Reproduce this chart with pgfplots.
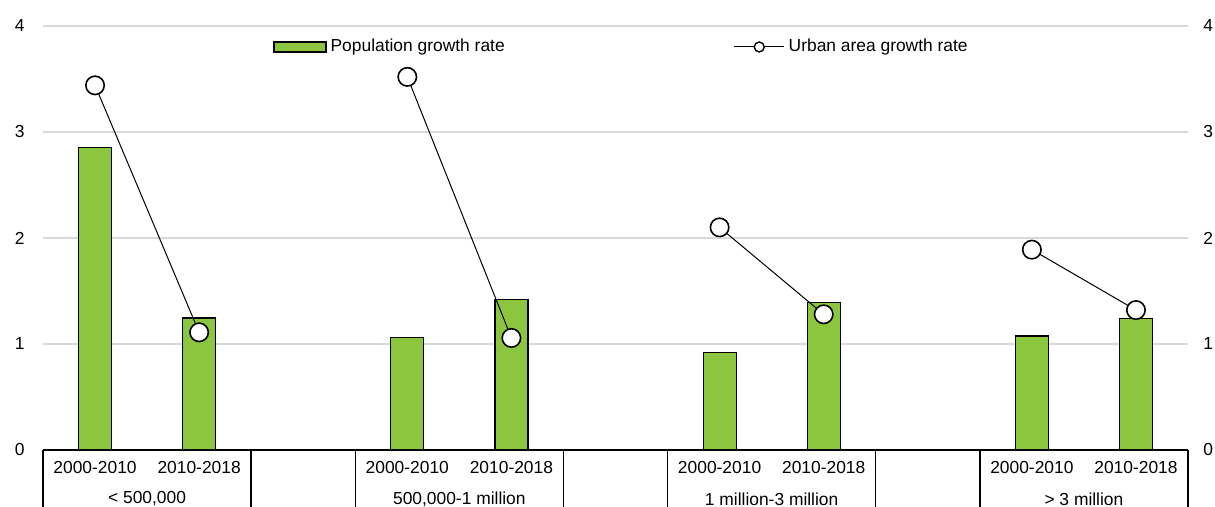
\documentclass[border=0pt]{standalone}
\usepackage{pgfplots}
\pgfplotsset{compat=1.18}
\usepackage{fontspec}
\setmainfont{Liberation Sans}
\definecolor{barg}{RGB}{140,198,63}
\definecolor{gridg}{RGB}{217,217,217}

\begin{document}
\begin{tikzpicture}[font=\fontsize{8.7}{10.4}\selectfont]
\begin{axis}[
  scale only axis, width=572.5pt, height=212pt,
  xmin=-0.5, xmax=10.5, ymin=0, ymax=4,
  ytick={0,1,2,3,4},
  xtick={0,1,3,4,6,7,9,10},
  xticklabels={2000-2010,2010-2018,2000-2010,2010-2018,2000-2010,2010-2018,2000-2010,2010-2018},
  axis line style={draw=none},
  tick style={draw=none},
  ymajorgrids, grid style={gridg, line width=0.7pt},
  yticklabel style={anchor=east, inner sep=0pt, xshift=-9pt},
  xticklabel style={anchor=center, inner sep=0pt, yshift=-9pt},
  /pgf/number format/assume math mode=true,
  clip=false,
  unbounded coords=jump,
  legend columns=2,
  legend cell align=left,
  legend style={draw=none, fill=none, inner sep=0pt,
    at={(0.2009,0.9505)}, anchor=west,
    /tikz/every even column/.append style={column sep=112.5pt}},
]
% population growth rate (bars)
\addplot[ybar, bar width=16.5pt, fill=barg, draw=black, line width=0.6pt,
  legend image code/.code={\draw[fill=barg, draw=black, line width=0.6pt] (0pt,-2.5pt) rectangle (26pt,2.5pt);}]
coordinates {
(0,2.85) (1,1.245)
(3,1.06) (4,1.42)
(6,0.92) (7,1.39)
(9,1.075) (10,1.24)
};
\addlegendentry{Population growth rate}

% urban area growth rate (line, broken between groups)
\addplot[black, line width=0.5pt, mark=*, mark size=4.6pt,
  mark options={fill=white, line width=0.8pt},
  legend image code/.code={
    \draw[black, line width=0.5pt] (0pt,0pt) -- (25pt,0pt);
    \draw[black, line width=0.7pt, fill=white] (12.5pt,0pt) circle (2.5pt);}]
coordinates {
(0,3.44) (1,1.11) (2,nan)
(3,3.52) (4,1.057) (5,nan)
(6,2.10) (7,1.28) (8,nan)
(9,1.89) (10,1.32)
};
\addlegendentry{Urban area growth rate}

% category table below the axis
\draw[black, line width=0.7pt] (axis cs:-0.5,0) -- (axis cs:10.5,0);
\pgfplotsinvokeforeach{-0.5,1.5,2.5,4.5,5.5,7.5,8.5,10.5}{
  \draw[black, line width=0.7pt] (axis cs:#1,0) -- (axis cs:#1,-0.7);
}
\node at (axis cs:0.5,0) [yshift=-24.5pt] {< 500,000};
\node at (axis cs:3.5,0) [yshift=-24.5pt] {500,000-1 million};
\node at (axis cs:6.5,0) [yshift=-24.5pt] {1 million-3 million};
\node at (axis cs:9.5,0) [yshift=-24.5pt] {> 3 million};
\end{axis}

% right-hand tick labels
\begin{axis}[
  scale only axis, width=572.5pt, height=212pt,
  xmin=-0.5, xmax=10.5, ymin=0, ymax=4,
  axis y line*=right, axis x line=none,
  ytick={0,1,2,3,4},
  axis line style={draw=none},
  tick style={draw=none},
  yticklabel style={anchor=west, inner sep=0pt, xshift=7.5pt},
  /pgf/number format/assume math mode=true,
]
\addplot[draw=none] coordinates {(0,0)};
\end{axis}

\pgfresetboundingbox
\path[use as bounding box] (-21.5pt,-28.5pt) rectangle (586pt,225pt);
\end{tikzpicture}
\end{document}
